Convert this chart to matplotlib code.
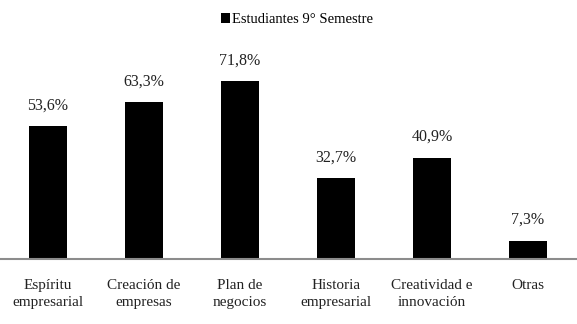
import matplotlib.pyplot as plt

categories = ["Espíritu\nempresarial", "Creación de\nempresas", "Plan de\nnegocios",
              "Historia\nempresarial", "Creatividad e\ninnovación", "Otras"]
values = [53.6, 63.3, 71.8, 32.7, 40.9, 7.3]
labels = ["53,6%", "63,3%", "71,8%", "32,7%", "40,9%", "7,3%"]
series_name = "Estudiantes 9° Semestre"

plt.rcParams['font.family'] = ['Liberation Serif', 'DejaVu Serif']

fig = plt.figure(figsize=(5.77, 3.24), dpi=100)
ax = fig.add_axes([0.0, 0.202, 1.0, 0.61])

x = list(range(len(categories)))
bars = ax.bar(x, values, width=0.39, color='black', label=series_name)

for xi, v, lab in zip(x, values, labels):
    ax.annotate(lab, xy=(xi, v), xytext=(0, 9), textcoords='offset points',
                ha='center', va='bottom', fontsize=11.5, color='#222222')

ax.set_xlim(-0.5, 5.51)
ax.set_ylim(0, 80)
ax.set_xticks(x)
ax.set_xticklabels(categories, fontsize=11, color='#222222', linespacing=1.35)
ax.tick_params(axis='x', length=0, pad=15)
ax.set_yticks([])
for s in ['top', 'right', 'left']:
    ax.spines[s].set_visible(False)
ax.spines['bottom'].set_color('#8c8c8c')
ax.spines['bottom'].set_linewidth(1.5)

fig.legend(handles=[bars], labels=[series_name], loc='upper center',
           bbox_to_anchor=(0.515, 1.0), frameon=False, fontsize=10.5,
           handlelength=0.6, handleheight=0.7, handletextpad=0.2)

fig.savefig('out.png', dpi=100)
